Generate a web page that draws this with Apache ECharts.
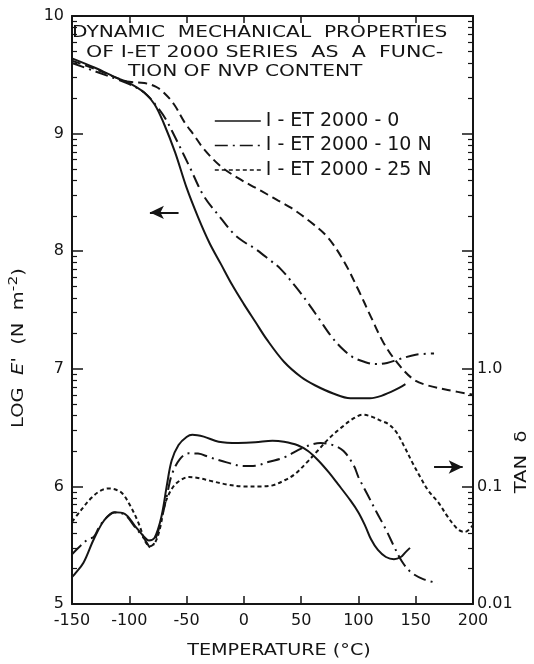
<!DOCTYPE html>
<html>
<head>
<meta charset="utf-8">
<script src="https://cdn.jsdelivr.net/npm/echarts@6/dist/echarts.min.js"></script>
<style>
html,body{margin:0;padding:0;background:#fff;}
#c{width:534px;height:664px;}
</style>
</head>
<body>
<div id="c"></div>
<script>
// ---- data: [temperature °C, log E' (N m^-2)] ----
const logE_0 = [[-150,9.64],[-130,9.56],[-110,9.47],[-100,9.43],[-87,9.35],[-78,9.25],[-70,9.09],[-60,8.84],[-50,8.54],[-40,8.29],[-30,8.07],[-20,7.89],[-10,7.71],[0,7.55],[10,7.40],[20,7.25],[35,7.06],[50,6.93],[62,6.86],[78,6.79],[93,6.75],[110,6.75],[120,6.77],[132,6.82],[141,6.87]];
const logE_10N = [[-150,9.60],[-130,9.53],[-110,9.46],[-100,9.42],[-87,9.35],[-75,9.22],[-68,9.12],[-58,8.93],[-47,8.71],[-35,8.47],[-20,8.28],[-9,8.15],[0,8.08],[10,8.02],[22,7.93],[32,7.85],[45,7.70],[56,7.56],[66,7.42],[76,7.28],[86,7.17],[95,7.10],[105,7.06],[115,7.04],[125,7.05],[135,7.08],[150,7.12],[166,7.13]];
const logE_25N = [[-150,9.62],[-130,9.55],[-110,9.47],[-100,9.44],[-87,9.43],[-77,9.40],[-70,9.35],[-61,9.25],[-52,9.10],[-43,8.98],[-35,8.87],[-20,8.72],[-3,8.61],[10,8.54],[21,8.48],[30,8.43],[41,8.37],[58,8.25],[73,8.12],[87,7.92],[100,7.67],[111,7.44],[122,7.22],[134,7.05],[148,6.91],[160,6.86],[178,6.82],[200,6.78]];

// ---- data: [temperature °C, tan δ] ----
const tan_0 = [[-150,0.0170],[-148,0.0178],[-140,0.0224],[-131,0.0355],[-122,0.0513],[-113,0.0603],[-104,0.0585],[-95,0.046],[-87,0.0372],[-83,0.0347],[-78,0.0365],[-72,0.055],[-67,0.105],[-63,0.166],[-57,0.225],[-50,0.263],[-45,0.275],[-35,0.265],[-22,0.240],[-5,0.234],[10,0.237],[25,0.245],[35,0.240],[47,0.224],[56,0.200],[65,0.166],[74,0.132],[82,0.105],[93,0.076],[100,0.060],[106,0.046],[111,0.0355],[117,0.0288],[124,0.0251],[131,0.0240],[137,0.0251],[141,0.0275],[145,0.030]];
const tan_10N = [[-150,0.0265],[-143,0.031],[-136,0.0355],[-131,0.0372],[-126,0.0457],[-120,0.054],[-113,0.060],[-104,0.0575],[-95,0.045],[-87,0.036],[-81,0.030],[-77,0.036],[-72,0.052],[-67,0.085],[-63,0.125],[-56,0.170],[-48,0.191],[-40,0.190],[-30,0.177],[-15,0.160],[0,0.149],[10,0.150],[22,0.162],[35,0.176],[52,0.214],[67,0.234],[78,0.224],[87,0.200],[96,0.150],[100,0.120],[108,0.085],[116,0.060],[124,0.043],[131,0.031],[138,0.023],[146,0.0186],[157,0.0162],[169,0.0151]];
const tan_25N = [[-150,0.050],[-142,0.063],[-133,0.080],[-125,0.092],[-118,0.096],[-112,0.094],[-106,0.087],[-99,0.068],[-92,0.049],[-86,0.034],[-82,0.031],[-77,0.034],[-73,0.045],[-69,0.070],[-63,0.095],[-57,0.110],[-48,0.120],[-40,0.118],[-30,0.112],[-15,0.104],[0,0.100],[15,0.100],[25,0.102],[35,0.112],[44,0.126],[55,0.16],[65,0.204],[75,0.26],[85,0.316],[96,0.38],[104,0.407],[112,0.39],[120,0.36],[126,0.34],[133,0.29],[140,0.219],[147,0.16],[154,0.120],[161,0.092],[170,0.0724],[178,0.055],[187,0.043],[193,0.041],[200,0.047]];

const seriesNames = ['I - ET 2000 - 0','I - ET 2000 - 10 N','I - ET 2000 - 25 N'];
const titleLines = ['DYNAMIC  MECHANICAL  PROPERTIES','OF I-ET 2000 SERIES  AS  A  FUNC-','TION OF NVP CONTENT'];
const xTitle = 'TEMPERATURE (°C)';
const tanLabels = {0.01:'0.01', 0.1:'0.1', 1:'1.0'};
const minorFactors = [2,3,4,5,6,7,8,9];

// log-decade minor tick positions on the log E' scale (5..10)
const minorTickVals = [];
for (let d = 5; d < 10; d++) minorFactors.forEach(f => minorTickVals.push(d + Math.log10(f)));

const INK = '#151515';
const FONT = 'DejaVu Sans';
const styles = {
  solid: 'solid',
  dashdot: [13,5,2,5],
  longdash: [9,5],
  shortdash: [4,3]
};

function line(name, data, yAxisIndex, type, extra) {
  return Object.assign({
    name, type: 'line', data, yAxisIndex, smooth: 0.35, symbol: 'none', showSymbol: false,
    lineStyle: {color: INK, width: 2, type},
    itemStyle: {color: INK},
    z: 3
  }, extra || {});
}

const chart = echarts.init(document.getElementById('c'), null, {renderer: 'canvas'});
const arrowStyle = {color: INK, width: 2, type: 'solid'};

const titleX = [72, 86, 128];
const titleY = [33, 53, 72];
const hiddenSym = {opacity: 0, color: 'rgba(0,0,0,0)', borderWidth: 0};
const gridRect = {left: 72, right: 61, top: 16, bottom: 60};

function minorAxis(position) {
  return {type: 'value', gridIndex: 1, min: 5, max: 10, position,
    axisLine: {show: false}, axisLabel: {show: false}, splitLine: {show: false},
    axisTick: {show: true, inside: true, length: 5, customValues: minorTickVals,
               lineStyle: {color: INK, width: 1.2}}};
}

chart.setOption({
  animation: false,
  backgroundColor: '#fff',
  textStyle: {fontFamily: FONT, color: INK},
  grid: [Object.assign({}, gridRect), Object.assign({}, gridRect)],
  legend: {
    orient: 'vertical', left: 214, top: 111, itemWidth: 46, itemHeight: 14, itemGap: 4.5, padding: 0,
    itemStyle: hiddenSym,
    textStyle: {fontFamily: FONT, fontSize: 19, color: INK, lineHeight: 20},
    data: [
      {name: seriesNames[0], itemStyle: hiddenSym, lineStyle: {type: styles.solid, width: 1.6, color: INK}},
      {name: seriesNames[1], itemStyle: hiddenSym, lineStyle: {type: styles.dashdot, width: 1.6, color: INK}},
      {name: seriesNames[2], itemStyle: hiddenSym, lineStyle: {type: styles.shortdash, width: 1.6, color: INK}}
    ]
  },
  xAxis: [
    {type: 'value', min: -150, max: 200, interval: 50, position: 'bottom',
     axisLine: {onZero: false, lineStyle: {color: INK, width: 2}},
     axisTick: {inside: true, length: 8, lineStyle: {color: INK, width: 1.5}},
     axisLabel: {fontFamily: FONT, fontSize: 16, color: INK, margin: 9},
     splitLine: {show: false}},
    {type: 'value', min: -150, max: 200, interval: 50, position: 'top',
     axisLine: {onZero: false, lineStyle: {color: INK, width: 2}},
     axisTick: {inside: true, length: 7, lineStyle: {color: INK, width: 1.5}},
     axisLabel: {show: false}, splitLine: {show: false}},
    {type: 'value', gridIndex: 1, min: 1, max: 2, show: false}
  ],
  yAxis: [
    {type: 'value', min: 5, max: 10, interval: 1, position: 'left',
     axisLine: {show: true, onZero: false, lineStyle: {color: INK, width: 2}},
     axisTick: {show: true, inside: true, length: 11, lineStyle: {color: INK, width: 1.5}},
     axisLabel: {fontFamily: FONT, fontSize: 16, color: INK, margin: 8},
     splitLine: {show: false}},
    {type: 'log', logBase: 10, min: 0.01, max: 1000, position: 'right',
     axisLine: {show: true, onZero: false, lineStyle: {color: INK, width: 2}},
     axisTick: {show: true, inside: true, length: 11, lineStyle: {color: INK, width: 1.5}},
     axisLabel: {fontFamily: FONT, fontSize: 16, color: INK, margin: 4,
       formatter: v => {
         for (const k in tanLabels) if (Math.abs(v - Number(k)) < 1e-6 * Math.max(1, v)) return tanLabels[k];
         return '';
       }},
     splitLine: {show: false}},
    minorAxis('left'),
    minorAxis('right')
  ],
  graphic: titleLines.map((t, i) => ({
      type: 'text', x: titleX[i], y: titleY[i], scaleX: i === 1 ? 1.29 : 1.26,
      style: {text: t, textAlign: 'left', textVerticalAlign: 'middle',
              fontFamily: FONT, fontSize: 16, fill: INK}
    })).concat([
    {type: 'text', x: 19, y: 348, rotation: Math.PI / 2, scaleX: 1.3,
     style: {
       text: '{n|LOG  }{i|E}{n|\'  (N  m}{s|-2}{n|)}',
       textAlign: 'center', textVerticalAlign: 'middle', fill: INK,
       rich: {
         n: {fontFamily: FONT, fontSize: 15, fill: INK},
         i: {fontFamily: FONT, fontSize: 15, fontStyle: 'italic', fill: INK},
         s: {fontFamily: FONT, fontSize: 12, fill: INK, padding: [0, 0, 10, 0]}
       }
     }},
    {type: 'text', x: 522, y: 462, rotation: Math.PI / 2, scaleX: 1.3,
     style: {text: 'TAN  δ', textAlign: 'center', textVerticalAlign: 'middle',
             fontFamily: FONT, fontSize: 15, fill: INK}},
    {type: 'text', x: 279, y: 651, scaleX: 1.2,
     style: {text: xTitle, textAlign: 'center', textVerticalAlign: 'middle',
             fontFamily: FONT, fontSize: 16, fill: INK}}
  ]),
  series: [
    line(seriesNames[0], logE_0, 0, styles.solid, {
      markLine: {silent: true, symbol: ['none', 'arrow'], symbolSize: [10, 14], label: {show: false},
        lineStyle: arrowStyle,
        data: [[{coord: [-57, 8.33]}, {coord: [-82, 8.33]}]]}
    }),
    line(seriesNames[1], logE_10N, 0, styles.dashdot),
    line(seriesNames[2], logE_25N, 0, styles.longdash, {
      markLine: {silent: true, symbol: ['none', 'arrow'], symbolSize: [10, 14], label: {show: false},
        lineStyle: arrowStyle,
        data: [[{coord: [166, 6.165]}, {coord: [191, 6.165]}]]}
    }),
    line(seriesNames[0], tan_0, 1, styles.solid),
    line(seriesNames[1], tan_10N, 1, styles.dashdot),
    line(seriesNames[2], tan_25N, 1, styles.shortdash)
  ]
});
</script>
</body>
</html>
